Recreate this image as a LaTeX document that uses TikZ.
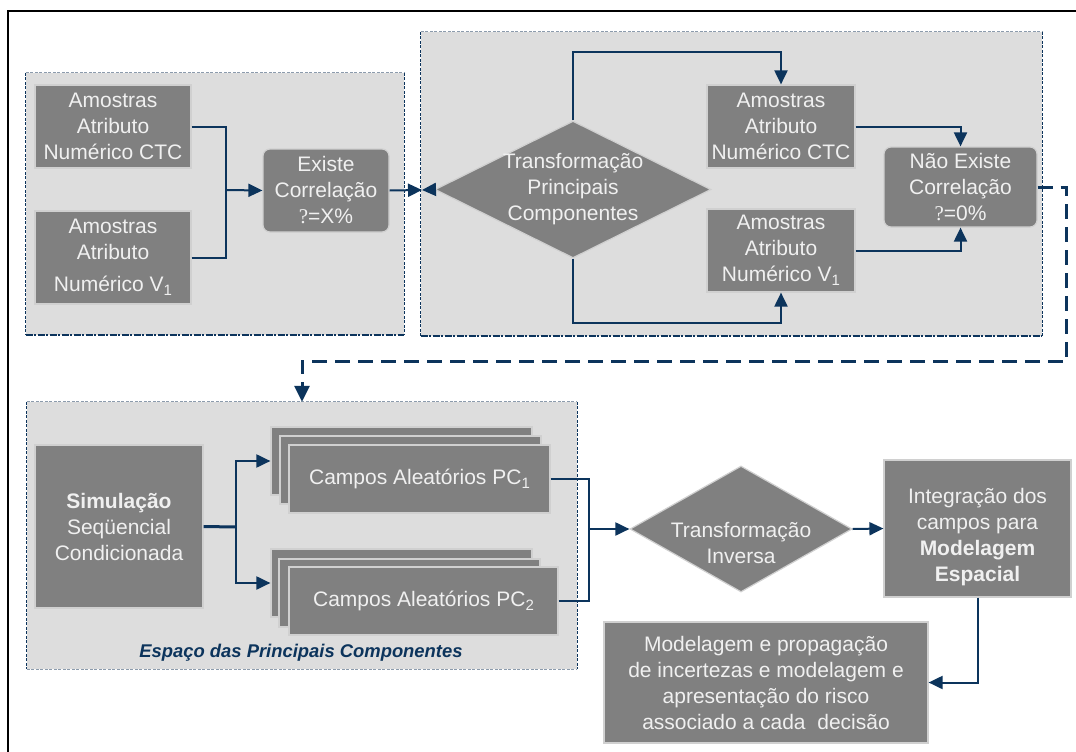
\documentclass[tikz,border=0pt]{standalone}
\usepackage{fontspec}
\setmainfont{Liberation Sans}
\newfontfamily\qmark{Liberation Serif}
\usetikzlibrary{arrows.meta,shapes.geometric}
\definecolor{navy}{RGB}{12,52,92}
\definecolor{boxgray}{RGB}{128,128,128}
\definecolor{panelgray}{RGB}{221,221,221}
\definecolor{txtlight}{RGB}{240,240,240}
\definecolor{edgelight}{RGB}{208,208,208}
\definecolor{dashgray}{RGB}{140,155,172}
\newcommand\lowidx[1]{\raisebox{-4pt}{\fontsize{15}{15}\selectfont#1}}
\begin{document}
\begin{tikzpicture}[x=1pt,y=-1pt,
  every node/.style={font=\fontsize{21}{26}\selectfont},
  box/.style={draw=edgelight, line width=1.2pt, fill=boxgray, text=txtlight,
    align=center, inner sep=0pt},
  rbox/.style={box, rounded corners=7pt},
  dbox/.style={box, shape=diamond},
  layer/.style={box, minimum height=68pt},
  txt/.style={text=txtlight, align=center, inner sep=0pt},
  panel/.style={fill=panelgray, draw=none, inner sep=0pt},
  ptop/.style={draw=dashgray, line width=0.8pt, dash pattern=on 3pt off 1.5pt},
  pside/.style={draw=navy, line width=0.9pt, dash pattern=on 3pt off 1.5pt},
  pbottom/.style={draw=navy, line width=2pt, dash pattern=on 7pt off 1.5pt on 2pt off 1.5pt},
  conn/.style={draw=navy, line width=2pt},
  arr/.style={conn, -{Triangle[length=14pt,width=13pt]}},
  dasharr/.style={draw=navy, line width=3pt, dash pattern=on 15pt off 8pt,
    -{Triangle[length=16pt,width=15pt]}}
]
\fill[white] (0,0) rectangle (1076,752);
\useasboundingbox (0,0) rectangle (1076,752);

% outer frame
\draw[line width=2.5pt] (8,752) -- (8,11) -- (1076,11);

% panels
\node[panel, minimum width=378pt, minimum height=262pt] (p1) at (215,204) {};
\node[panel, minimum width=621pt, minimum height=304pt] (p2) at (731.5,184) {};
\node[panel, minimum width=550pt, minimum height=267pt] (p3) at (302,535.5) {};
\foreach \p in {p1,p2,p3}{
  \draw[ptop] (\p.north west) -- (\p.north east);
  \draw[pside] (\p.north west) -- (\p.south west);
  \draw[pside] (\p.north east) -- (\p.south east);
}
\draw[pbottom] (p1.south west) -- (p1.south east);
\draw[pbottom] (p2.south west) -- (p2.south east);
\draw[ptop] (p3.south west) -- (p3.south east);

% first panel: samples and correlation test
\node[box, minimum width=156pt, minimum height=83pt] (a1) at (113,126.5)
  {Amostras\\Atributo\\Numérico CTC};
\node[box, minimum width=156pt, minimum height=93pt] (a2) at (113,257.5)
  {Amostras\\Atributo\\[6pt]Numérico V\lowidx{1}};
\node[rbox, minimum width=126pt, minimum height=83pt] (ex) at (326,190.5)
  {Existe\\Correlação\\{\qmark ?}=X\%};

% second panel: principal components transform
\node[dbox, minimum width=276pt, minimum height=137pt] (tp) at (573,189.5) {};
\node[txt] at (tp.center) {Transformação\\Principais\\Componentes};
\node[box, minimum width=148pt, minimum height=83pt] (ctc2) at (781,126.5)
  {Amostras\\Atributo\\Numérico CTC};
\node[box, minimum width=148pt, minimum height=83pt] (v12) at (781,250.5)
  {Amostras\\Atributo\\Numérico V\lowidx{1}};
\node[rbox, minimum width=153pt, minimum height=80pt] (ne) at (960.5,187)
  {Não Existe\\Correlação\\{\qmark ?}=0\%};

% third panel: simulation in PC space
\node[box, minimum width=168pt, minimum height=163pt] (sim) at (119,526.5)
  {\textbf{Simulação}\\Seqüencial\\Condicionada};
\node[layer, minimum width=261pt] (pc1b) at (401.5,461) {};
\node[layer, minimum width=261pt] (pc1m) at (410.5,470) {};
\node[layer, minimum width=261pt] (pc1) at (419.5,479) {Campos Aleatórios PC\lowidx{1}};
\node[layer, minimum width=261pt] (pc2b) at (401.5,583) {};
\node[layer, minimum width=261pt] (pc2m) at (409.5,593) {};
\node[layer, minimum width=269pt] (pc2) at (423.5,601) {Campos Aleatórios PC\lowidx{2}};
\node[text=navy, inner sep=0pt, font=\fontsize{18.4}{21}\selectfont\bfseries\itshape]
  (cap) at (301,653) {Espaço das Principais Componentes};

% back transform and results
\node[dbox, minimum width=222pt, minimum height=126pt] (ti) at (741,529) {};
\node[txt] at (741,543) {Transformação\\Inversa};
\node[box, minimum width=187pt, minimum height=137pt] (int) at (977.5,528.5) {};
\node[txt] at (977.5,537) {Integração dos\\campos para\\\textbf{Modelagem}\\\textbf{Espacial}};
\node[box, minimum width=324pt, minimum height=121pt] (mod) at (766,682.5)
  {Modelagem e propagação\\de incertezas e modelagem e\\apresentação do risco\\associado a cada\ \ decisão};

% connectors
\coordinate (j1) at (226,190);
\draw[conn] (a1.east) -| (j1);
\draw[conn] (a2.east) -| (j1);
\draw[arr] (j1) -- (ex.west);
\coordinate (m1) at (422,190);
\draw[arr] (ex.east) -- (m1);
\draw[arr] (tp.west) -- (m1);
\draw[arr] (tp.north) -- ++(0,-68) -| (ctc2.north);
\draw[arr] (tp.south) -- ++(0,64) -| (v12.south);
\draw[arr] (ctc2.east) -| (ne.north);
\draw[arr] (v12.east) -| (ne.south);
\draw[dasharr] (ne.east) -- ++(29,0) -- ++(0,174) -| (p3.north);

\coordinate (j2) at (236,527);
\draw[conn, line width=3pt] (sim.east) -- (j2);
\draw[arr] (j2) |- (pc1b.west);
\draw[arr] (j2) |- (pc2b.west);
\coordinate (j3) at (589,529);
\draw[conn] (pc1.east) -| (j3);
\draw[conn] (pc2.east) -| (j3);
\draw[arr] (j3) -- (ti.west);
\draw[arr] (ti.east) -- (int.west);
\draw[arr] (int.south) |- (mod.east);
\end{tikzpicture}
\end{document}
